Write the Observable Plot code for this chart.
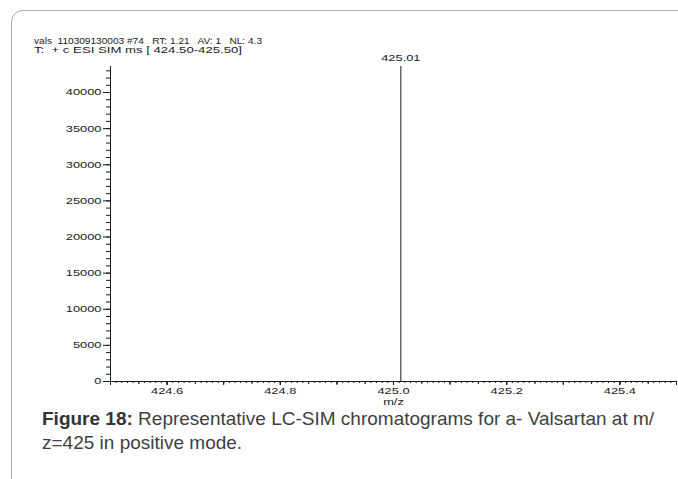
<!DOCTYPE html>
<html><head><meta charset="utf-8">
<script src="https://cdn.jsdelivr.net/npm/d3@7"></script>
<script src="https://cdn.jsdelivr.net/npm/@observablehq/plot@0.6"></script>
<style>
html,body{margin:0;padding:0;background:#fff;width:678px;height:479px;overflow:hidden;position:relative;}
#frame{position:absolute;left:11px;top:10px;width:720px;height:520px;border:1px solid #a9a9a9;border-radius:12px;}
#chart{position:absolute;left:0;top:0;}
#header{position:absolute;left:0;top:0;}
#caption{position:absolute;left:42px;top:407px;font-family:"Liberation Sans",Arial,sans-serif;font-size:19px;line-height:24px;color:#404040;white-space:nowrap;}
#caption b{color:#333;}
</style></head><body>
<div id="frame"></div>
<svg id="header" width="320" height="60"></svg>
<div id="chart"></div>
<div id="caption"><b>Figure 18:</b> Representative LC-SIM chromatograms for a- Valsartan at m/<br>z=425 in positive mode.</div>
<script>
// ---- data ----
const headerLines = ["vals  110309130003 #74   RT: 1.21   AV: 1   NL: 4.3", "T:  + c ESI SIM ms [ 424.50-425.50]"];
const headerWidths = [228, 208];
const peakMz = [425.013];
const peakIntensity = [43600];
const peakLabels = ["425.01"];
const xDomain = [424.5, 425.5];
const yDomain = [0, 43600];
const xLabeledTicks = [424.6, 424.8, 425.0, 425.2, 425.4];
const xLabelText = ["424.6", "424.8", "425.0", "425.2", "425.4"];
const yLabeledTicks = [0, 5000, 10000, 15000, 20000, 25000, 30000, 35000, 40000];
const xAxisLabel = ["m/z"];

// tick positions (minor subdivisions)
const xMinor = d3.range(0, 101).map(i => 424.5 + i / 100);
const xMid = d3.range(0, 21).map(i => 424.5 + i / 20);
const xTenth = d3.range(0, 11).map(i => 424.5 + i / 10);
const yMinor = d3.range(0, 44).map(i => i * 1000);

const peaks = peakMz.map((mz, i) => ({mz, intensity: peakIntensity[i], label: peakLabels[i]}));

const SX = 1.43;
const FONT = "'Liberation Sans', Arial, sans-serif";

// header
const hg = d3.select("#header").append("g")
  .style("font-family", FONT).style("font-size", "9px").attr("fill", "#1a1a1a");
headerLines.forEach((t, i) => {
  hg.append("text").attr("xml:space", "preserve").style("white-space", "pre")
    .attr("x", 34).attr("y", 44 + i * 9)
    .attr("textLength", headerWidths[i]).attr("lengthAdjust", "spacingAndGlyphs")
    .text(t);
});

const chart = Plot.plot({
  width: 678,
  height: 420,
  marginLeft: 110,
  marginRight: 2,
  marginTop: 66,
  marginBottom: 39,
  style: {fontFamily: FONT, fontSize: "9px", color: "#1a1a1a", background: "transparent", overflow: "visible"},
  x: {domain: xDomain},
  y: {domain: yDomain},
  marks: [
    Plot.axisY({ticks: yMinor, tickSize: 4, tickFormat: () => "", label: null}),
    Plot.axisY({ticks: yLabeledTicks, tickSize: 7, tickPadding: 2, tickFormat: d3.format("d"), label: null}),
    Plot.axisX({ticks: xMinor, tickSize: 2, tickFormat: () => "", label: null}),
    Plot.axisX({ticks: xMid, tickSize: 3, tickFormat: () => "", label: null}),
    Plot.axisX({ticks: xTenth, tickSize: 4, tickFormat: () => "", label: null}),
    Plot.axisX({ticks: xLabeledTicks, tickSize: 4, tickPadding: 2, tickFormat: (d, i) => xLabelText[i], label: null}),
    Plot.ruleX([xDomain[0]], {y1: yDomain[0], y2: yDomain[1], stroke: "#1a1a1a"}),
    Plot.ruleY([yDomain[0]], {x1: xDomain[0], x2: xDomain[1], stroke: "#1a1a1a"}),
    Plot.ruleX(peaks, {x: "mz", y1: 0, y2: "intensity", stroke: "#1a1a1a"}),
    Plot.text(peaks, {x: "mz", y: "intensity", text: "label", dy: -8, fill: "#1a1a1a"}),
    Plot.text(xAxisLabel, {x: 425.0, frameAnchor: "bottom", text: d => d, dy: 23, fill: "#1a1a1a"})
  ]
});
document.getElementById("chart").appendChild(chart);

// horizontally stretch the instrument-style labels
chart.querySelectorAll("text").forEach(el => {
  const xa = parseFloat(el.getAttribute("x")) || 0;
  const t = el.getAttribute("transform") || "";
  el.setAttribute("transform", `${t} translate(${xa},0) scale(${SX},1) translate(${-xa},0)`);
});
</script>
</body></html>
